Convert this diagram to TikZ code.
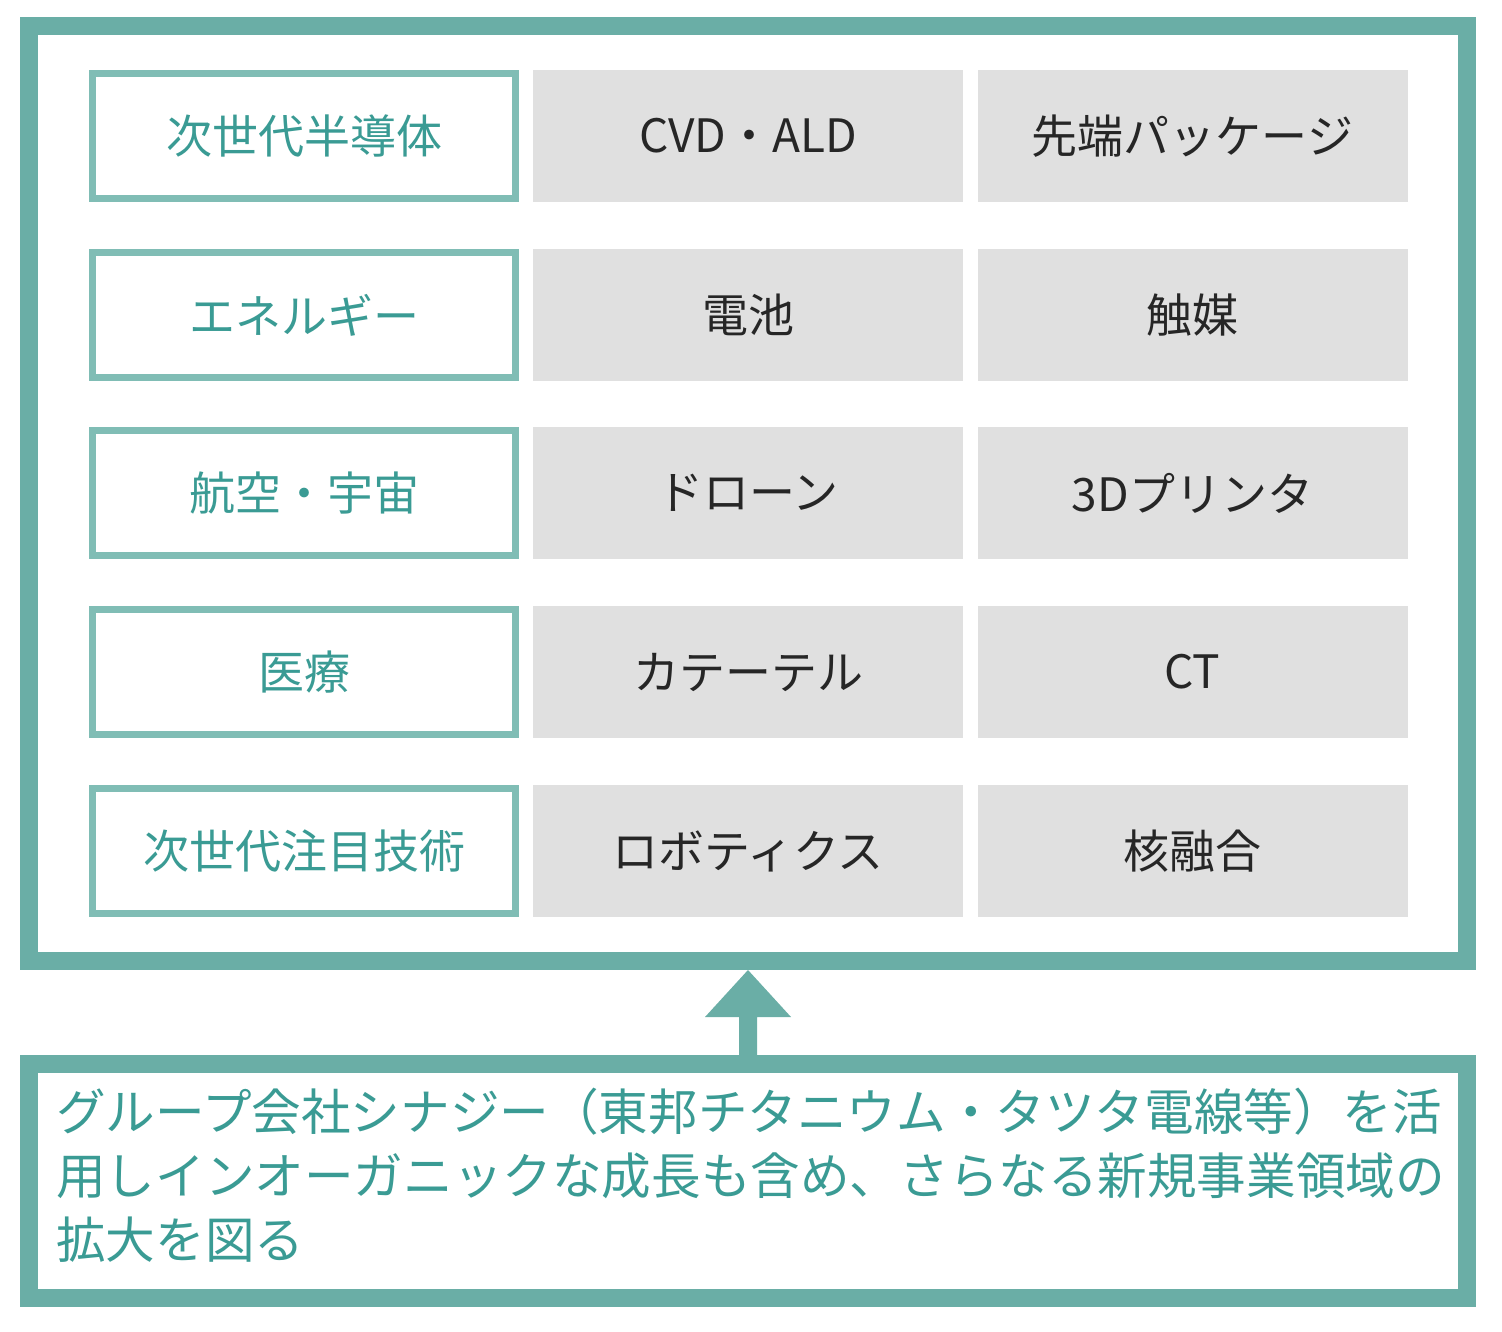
\documentclass[tikz,border=0pt]{standalone}
\usepackage{fontspec}
\setmainfont{Noto Sans CJK JP}
\definecolor{frame}{HTML}{6AAEA6}
\definecolor{lframe}{HTML}{80BDB5}
\definecolor{tealtxt}{HTML}{3A9B94}
\definecolor{cell}{HTML}{E0E0E0}
\begin{document}
\begin{tikzpicture}[x=1pt,y=-1pt,
  cat/.style={draw=lframe,line width=7pt,fill=white,minimum width=423pt,minimum height=125pt,inner sep=0pt,text=tealtxt,font=\fontsize{46}{54}\selectfont},
  itm/.style={fill=cell,minimum width=430pt,minimum height=132pt,inner sep=0pt,text=black!85,font=\fontsize{46}{54}\selectfont}]
\useasboundingbox (0,0) rectangle (1502,1332);
\draw[frame,line width=18pt] (29,26) rectangle (1467,961);
\node[draw=frame,line width=18pt,fill=white,minimum width=1438pt,minimum height=234pt,inner sep=0pt] (bot) at (748,1181) {};
\node[anchor=north west,align=left,text=tealtxt,font=\fontsize{49.6}{64}\selectfont,inner sep=0pt] (bt) at (56,1088)
{グループ会社シナジー（東邦チタニウム・タツタ電線等）を活\\用しインオーガニックな成長も含め、さらなる新規事業領域の\\拡大を図る};
\fill[frame] (705,1017) -- (748,970) -- (791,1017) -- (757,1017) -- (757,1056) -- (739,1056) -- (739,1017) -- cycle;
\foreach \y/\a/\b/\c [count=\i] in {136/次世代半導体/CVD・ALD/先端パッケージ,315/エネルギー/電池/触媒,493/航空・宇宙/ドローン/3Dプリンタ,672/医療/カテーテル/CT,851/次世代注目技術/ロボティクス/核融合}{
  \node[cat] (c\i) at (304,\y) {\a};
  \node[itm] (m\i) at (748,\y) {\b};
  \node[itm] (r\i) at (1192.5,\y) {\c};
}
\end{tikzpicture}
\end{document}
